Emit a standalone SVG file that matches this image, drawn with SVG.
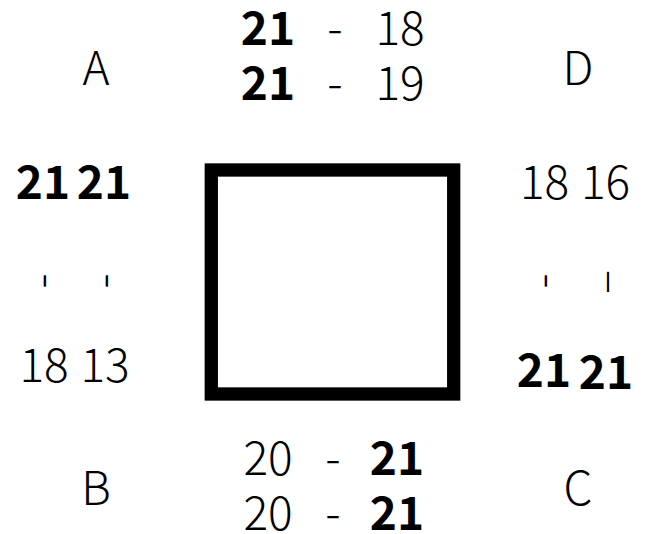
<svg xmlns="http://www.w3.org/2000/svg" width="666" height="534" viewBox="0 0 666 534">
<style>
text{font-family:"Noto Sans CJK JP","Noto Sans",sans-serif;font-size:46px;font-weight:300;fill:#000;text-anchor:middle}
.b{font-weight:bold}
</style>
<rect width="666" height="534" fill="#fff"/>
<g id="court">
<rect x="211.3" y="170" width="242.4" height="224" fill="#fff" stroke="#000" stroke-width="13.3"/>
</g>
<g id="connectors"></g>
<g id="corner-A"><text x="96" y="85">A</text></g>
<g id="corner-D"><text x="578" y="85">D</text></g>
<g id="corner-B"><text x="96" y="505">B</text></g>
<g id="corner-C"><text x="578" y="505">C</text></g>
<g id="top-scores">
<text class="b" x="268" y="45">21</text><text x="335" y="45">-</text><text x="400" y="45">18</text>
<text class="b" x="268" y="100">21</text><text x="335" y="100">-</text><text x="400" y="100">19</text>
</g>
<g id="bottom-scores">
<text x="268" y="475">20</text><text x="333" y="475">-</text><text class="b" x="397" y="475">21</text>
<text x="268" y="530">20</text><text x="333" y="530">-</text><text class="b" x="397" y="530">21</text>
</g>
<g id="left-scores">
<text class="b" x="43" y="199">21</text><text class="b" x="104" y="199">21</text>
<text transform="rotate(90 45 281)" x="45" y="281" dy="0.28em">-</text>
<text transform="rotate(90 107 281)" x="107" y="281" dy="0.28em">-</text>
<text x="44" y="382">18</text><text x="105" y="382">13</text>
</g>
<g id="right-scores">
<text x="544.5" y="199">18</text><text x="605.5" y="199">16</text>
<text transform="rotate(90 546 281)" x="546" y="281" dy="0.28em">-</text>
<text transform="rotate(90 608 282)" x="608" y="282" dy="0.28em">–</text>
<text class="b" x="544" y="387">21</text><text class="b" x="606" y="389">21</text>
</g>
</svg>
